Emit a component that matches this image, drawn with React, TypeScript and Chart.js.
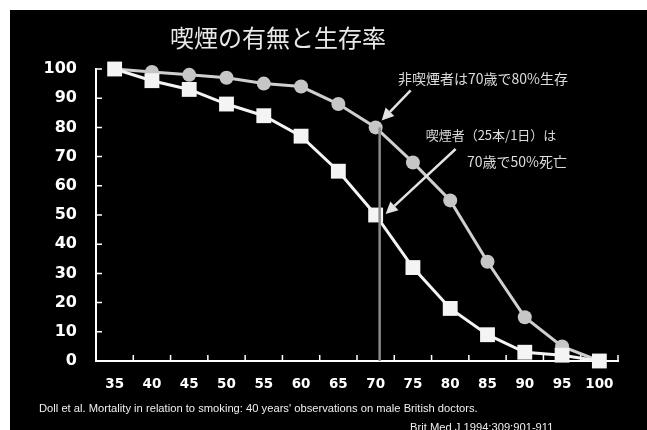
import React, { useEffect, useRef } from "react";
import { Chart, registerables } from "chart.js";

Chart.register(...registerables);

const ages = ["35", "40", "45", "50", "55", "60", "65", "70", "75", "80", "85", "90", "95", "100"];
const smokers = [100, 96, 93, 88, 84, 77, 65, 50, 32, 18, 9, 3, 2, 0];
const nonSmokers = [100, 99, 98, 97, 95, 94, 88, 80, 68, 55, 34, 15, 5, 0];
const yTicks = [0, 10, 20, 30, 40, 50, 60, 70, 80, 90, 100];
const highlightIndex = 7;

const titleText = "喫煙の有無と生存率";
const note1 = "非喫煙者は70歳で80%生存";
const note2a = "喫煙者（25本/1日）は";
const note2b = "70歳で50%死亡";
const cite1 = "Doll et al. Mortality in relation to smoking: 40 years' observations on male British doctors.";
const cite2 = "Brit Med J 1994;309:901-911";

function drawArrow(ctx: CanvasRenderingContext2D, x1: number, y1: number, x2: number, y2: number) {
  const ang = Math.atan2(y2 - y1, x2 - x1);
  const head = 12;
  const hw = 6;
  const bx = x2 - head * Math.cos(ang);
  const by = y2 - head * Math.sin(ang);
  ctx.beginPath();
  ctx.moveTo(x1, y1);
  ctx.lineTo(bx, by);
  ctx.stroke();
  ctx.beginPath();
  ctx.moveTo(x2, y2);
  ctx.lineTo(bx + hw * Math.sin(ang), by - hw * Math.cos(ang));
  ctx.lineTo(bx - hw * Math.sin(ang), by + hw * Math.cos(ang));
  ctx.closePath();
  ctx.fill();
}

const inwardTicks = {
  id: "inwardTicks",
  beforeDatasetsDraw(chart: any) {
    const { ctx, chartArea, scales } = chart;
    const x = scales.x;
    const y = scales.y;
    ctx.save();
    ctx.strokeStyle = "#ffffff";
    ctx.lineWidth = 1.5;
    ctx.beginPath();
    yTicks.forEach((v) => {
      if (v === 0) return;
      const py = y.getPixelForValue(v);
      ctx.moveTo(chartArea.left, py);
      ctx.lineTo(chartArea.left + 6, py);
    });
    const half = (x.getPixelForValue(1) - x.getPixelForValue(0)) / 2;
    for (let i = 0; i < ages.length; i++) {
      const px = x.getPixelForValue(i) + half;
      ctx.moveTo(px, chartArea.bottom);
      ctx.lineTo(px, chartArea.bottom - 6);
    }
    ctx.stroke();
    ctx.restore();
  },
};

const annotations = {
  id: "annotations",
  afterDatasetsDraw(chart: any) {
    const { ctx, chartArea } = chart;
    const s = chart.getDatasetMeta(0).data[highlightIndex];
    const c = chart.getDatasetMeta(1).data[highlightIndex];
    ctx.save();
    ctx.strokeStyle = "#8a8a8a";
    ctx.lineWidth = 2.5;
    ctx.beginPath();
    ctx.moveTo(c.x + 4, c.y);
    ctx.lineTo(c.x + 4, chartArea.bottom);
    ctx.stroke();
    ctx.strokeStyle = "#e2e2e2";
    ctx.fillStyle = "#e2e2e2";
    ctx.lineWidth = 2.5;
    drawArrow(ctx, c.x + 35, c.y - 37, c.x + 6, c.y - 7);
    drawArrow(ctx, s.x + 80, s.y - 66, s.x + 10, s.y - 1);
    ctx.restore();
  },
};

export default function App() {
  const ref = useRef<HTMLCanvasElement | null>(null);

  useEffect(() => {
    if (!ref.current) return;
    const chart = new Chart(ref.current, {
      type: "line",
      data: {
        labels: ages,
        datasets: [
          {
            label: "喫煙者",
            data: smokers,
            borderColor: "#f4f4f4",
            backgroundColor: "#f4f4f4",
            borderWidth: 3,
            pointStyle: "rect",
            pointRadius: 10.5,
            pointBorderWidth: 0,
            tension: 0,
            clip: false,
          },
          {
            label: "非喫煙者",
            data: nonSmokers,
            borderColor: "#cfcfcf",
            backgroundColor: "#c6c6c6",
            borderWidth: 3,
            pointStyle: "circle",
            pointRadius: 7,
            pointBorderWidth: 0,
            tension: 0,
            clip: false,
          },
        ],
      },
      options: {
        animation: false,
        responsive: false,
        devicePixelRatio: 1,
        layout: { padding: { top: 59, right: 29, left: 0, bottom: 0 } },
        plugins: { legend: { display: false }, tooltip: { enabled: false }, title: { display: false } },
        scales: {
          x: {
            type: "category",
            offset: true,
            grid: { display: false, drawTicks: false, offset: true },
            border: { display: true, color: "#ffffff", width: 2 },
            ticks: {
              color: "#ffffff",
              padding: 15,
              maxRotation: 0,
              autoSkip: false,
              font: { family: "DejaVu Sans", weight: "bold", size: 13.5 },
            },
            afterFit: (scale: any) => {
              scale.height = 69;
            },
          },
          y: {
            min: 0,
            max: 100,
            grid: { display: false, drawTicks: false },
            border: { display: true, color: "#ffffff", width: 2 },
            afterBuildTicks: (scale: any) => {
              scale.ticks = yTicks.map((v) => ({ value: v }));
            },
            ticks: {
              color: "#ffffff",
              padding: 19,
              font: { family: "DejaVu Sans", weight: "bold", size: 16 },
            },
            afterFit: (scale: any) => {
              scale.width = 86;
            },
          },
        },
      },
      plugins: [inwardTicks, annotations],
    } as any);
    return () => chart.destroy();
  }, []);

  const note: React.CSSProperties = {
    position: "absolute",
    font: '14px "Noto Sans CJK JP"',
    color: "#dcdcdc",
    lineHeight: "16px",
    whiteSpace: "nowrap",
  };

  const cite: React.CSSProperties = {
    position: "absolute",
    font: '11.2px "Liberation Sans"',
    lineHeight: "13px",
    color: "#f0f0f0",
    whiteSpace: "nowrap",
  };

  return (
    <div
      style={{
        position: "absolute",
        left: 10,
        top: 10,
        width: 637,
        height: 420,
        background: "#000",
        overflow: "hidden",
      }}
    >
      <canvas ref={ref} width={637} height={420} style={{ position: "absolute", left: 0, top: 0 }} />
      <div
        style={{
          position: "absolute",
          left: 160,
          top: 12,
          font: '24px "Noto Sans CJK JP"',
          lineHeight: "30px",
          color: "#e8e8e8",
          whiteSpace: "nowrap",
        }}
      >
        {titleText}
      </div>
      <div style={{ ...note, left: 388, top: 60 }}>{note1}</div>
      <div style={{ ...note, left: 481, top: 117, fontSize: 13, transform: "translateX(-50%)" }}>{note2a}</div>
      <div style={{ ...note, left: 457, top: 143 }}>{note2b}</div>
      <div style={{ ...cite, left: 29, top: 392 }}>{cite1}</div>
      <div style={{ ...cite, left: 400, top: 411 }}>{cite2}</div>
    </div>
  );
}
